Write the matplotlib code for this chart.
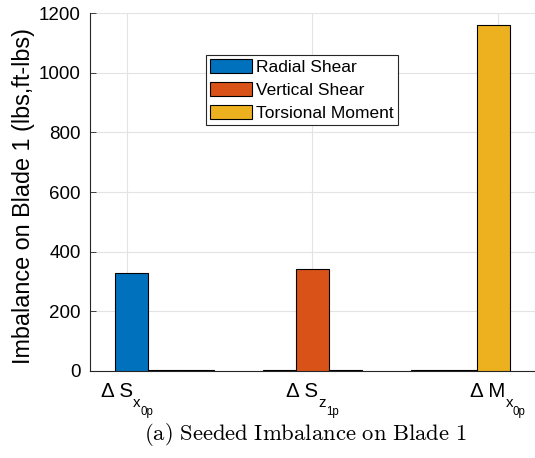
#!/usr/bin/env python3

# Grouped bar chart of the seeded imbalance loads on blade 1 (MATLAB-like look)

import matplotlib
matplotlib.use("Agg")
import matplotlib.pyplot as plt
import numpy as np

plt.rcParams['font.family'] = ['Liberation Sans', 'DejaVu Sans']

# tick label pieces: main text, first subscript, second subscript
group_main = ['\u0394 S', '\u0394 S', '\u0394 M']
group_sub = ['x', 'z', 'x']
group_subsub = ['0p', '1p', '0p']
series = ['Radial Shear', 'Vertical Shear', 'Torsional Moment']
radial_shear = [329, 1, 1]
vertical_shear = [1, 341.5, 1]
torsional_moment = [1, 1, 1161]
tick_pos = [0.75, 2, 3.25]
yticks = [0, 200, 400, 600, 800, 1000, 1200]

colors = ['#0072BD', '#D95319', '#EDB120']

W, H = 535, 458
fig = plt.figure(figsize=(W / 100, H / 100), dpi=100)
ax = fig.add_axes([0.1682, 0.1906, 0.8318, 0.7803])

x = np.arange(1, len(group_main) + 1)
bar_w = 2.0 / 9.0
for i, vals in enumerate([radial_shear, vertical_shear, torsional_moment]):
    ax.bar(x + (i - 1) * bar_w, vals, width=bar_w, color=colors[i],
           edgecolor='black', linewidth=0.8, label=series[i], zorder=3)

ax.set_xlim(0.5, 3.5)
ax.set_ylim(0, 1200)
ax.set_xticks(tick_pos)
ax.set_xticklabels([])
ax.set_yticks(yticks)
ax.tick_params(axis='y', labelsize=13.5, direction='in', length=4, width=0.6,
               color='#262626', pad=6.5)
ax.tick_params(axis='x', direction='in', length=0)
ax.set_ylabel('Imbalance on Blade 1 (lbs,ft-lbs)', fontsize=16.8)
ax.yaxis.set_label_coords(-0.123, 0.488)

ax.grid(True, color='#e3e3e3', linewidth=0.8, zorder=0)
ax.set_axisbelow(True)
for side in ['top', 'right']:
    ax.spines[side].set_visible(False)
for side in ['left', 'bottom']:
    ax.spines[side].set_color('#262626')
    ax.spines[side].set_linewidth(0.8)

leg = ax.legend(loc='upper left', bbox_to_anchor=(0.26, 0.884), borderaxespad=0,
                fontsize=12.5, fancybox=False, framealpha=1, edgecolor='#262626',
                handlelength=2.4, handleheight=0.85, handletextpad=0.25,
                labelspacing=0.4, borderpad=0.25)
leg.get_frame().set_linewidth(0.8)

# x tick labels with nested subscripts, laid out piece by piece
renderer = fig.canvas.get_renderer()
axis_bottom = ax.transAxes.transform((0, 0))[1]
for pos, main, sub, subsub in zip(tick_pos, group_main, group_sub, group_subsub):
    pieces = [(main, 14.8, 26), (sub, 10.8, 36), (subsub, 8.3, 44)]
    texts = [fig.text(0, 0, s, fontsize=size, ha='left', va='baseline') for s, size, _ in pieces]
    widths = [t.get_window_extent(renderer).width for t in texts]
    left = ax.transData.transform((pos, 0))[0] - sum(widths) / 2
    for t, w, (_, _, drop) in zip(texts, widths, pieces):
        t.set_position((left / W, (axis_bottom - drop) / H))
        left += w

fig.text(305 / W, 0.0393, r'$\mathrm{(a)\ Seeded\ Imbalance\ on\ Blade\ 1}$',
         ha='center', va='baseline', fontsize=16.3, math_fontfamily='cm')

fig.savefig('out.png', dpi=100)
